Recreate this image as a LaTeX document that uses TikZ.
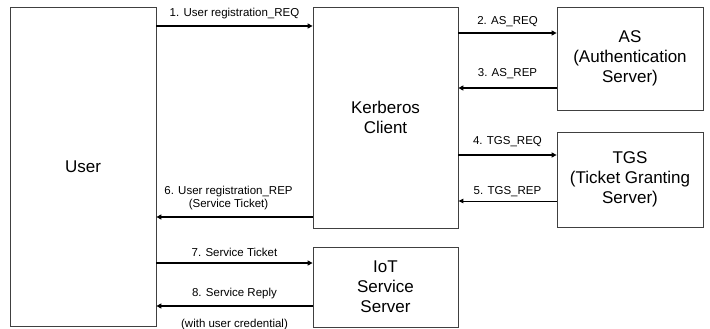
\documentclass[tikz,border=0pt]{standalone}
\usepackage{fontspec}
\setmainfont{Liberation Sans}
\usetikzlibrary{arrows.meta}
\begin{document}
\begin{tikzpicture}[x=1pt,y=-1pt,
  box/.style={draw=black!75, line width=0.8pt, inner sep=0pt, align=center,
    font=\fontsize{17}{20}\selectfont},
  msg/.style={line width=1.6pt, -{Triangle[length=5pt,width=5pt]}},
  thinmsg/.style={line width=1pt, -{Triangle[length=5pt,width=4.5pt]}},
  lbl/.style={font=\fontsize{11.5}{13}\selectfont, inner sep=1pt, align=center}]
\useasboundingbox (0,0) rectangle (710,329);
% entities
\node[box, minimum width=146pt, minimum height=319pt] (user) at (83,166.5) {User};
\node[box, minimum width=145pt, minimum height=221pt] (kc) at (385.5,117.5) {Kerberos\\Client};
\node[box, minimum width=146pt, minimum height=103pt] (as) at (630,58.5) {AS\\(Authentication\\Server)};
\node[box, minimum width=146pt, minimum height=95pt] (tgs) at (630,179.5) {TGS\\(Ticket Granting\\Server)};
\node[box, minimum width=145pt, minimum height=80pt] (iot) at (385.5,287) {IoT\\Service\\Server};
% message rows
\coordinate (r1) at (0,26);
\coordinate (r2) at (0,33);
\coordinate (r3) at (0,88);
\coordinate (r4) at (0,155);
\coordinate (r5) at (0,201);
\coordinate (r6) at (0,217);
\coordinate (r7) at (0,263);
\coordinate (r8) at (0,306);
% messages
\draw[msg] (user.east |- r1) -- node[lbl, above=5pt] {1. User registration\_REQ} (kc.west |- r1);
\draw[msg] (kc.east |- r2) -- node[lbl, above=4pt] {2. AS\_REQ} (as.west |- r2);
\draw[msg] (as.west |- r3) -- node[lbl, above=7pt] {3. AS\_REP} (kc.east |- r3);
\draw[msg] (kc.east |- r4) -- node[lbl, above=6pt] {4. TGS\_REQ} (tgs.west |- r4);
\draw[thinmsg] (tgs.west |- r5) -- node[lbl, above=3pt] {5. TGS\_REP} (kc.east |- r5);
\draw[msg] (kc.west |- r6) -- node[lbl, above=5pt, xshift=-6pt] {6. User registration\_REP\\(Service Ticket)} (user.east |- r6);
\draw[msg] (user.east |- r7) -- node[lbl, above=5pt] {7. Service Ticket} (iot.west |- r7);
\draw[msg] (iot.west |- r8) -- node[lbl, above=5pt] {8. Service Reply}
  node[lbl, below=11pt] {(with user credential)} (user.east |- r8);
\end{tikzpicture}
\end{document}
